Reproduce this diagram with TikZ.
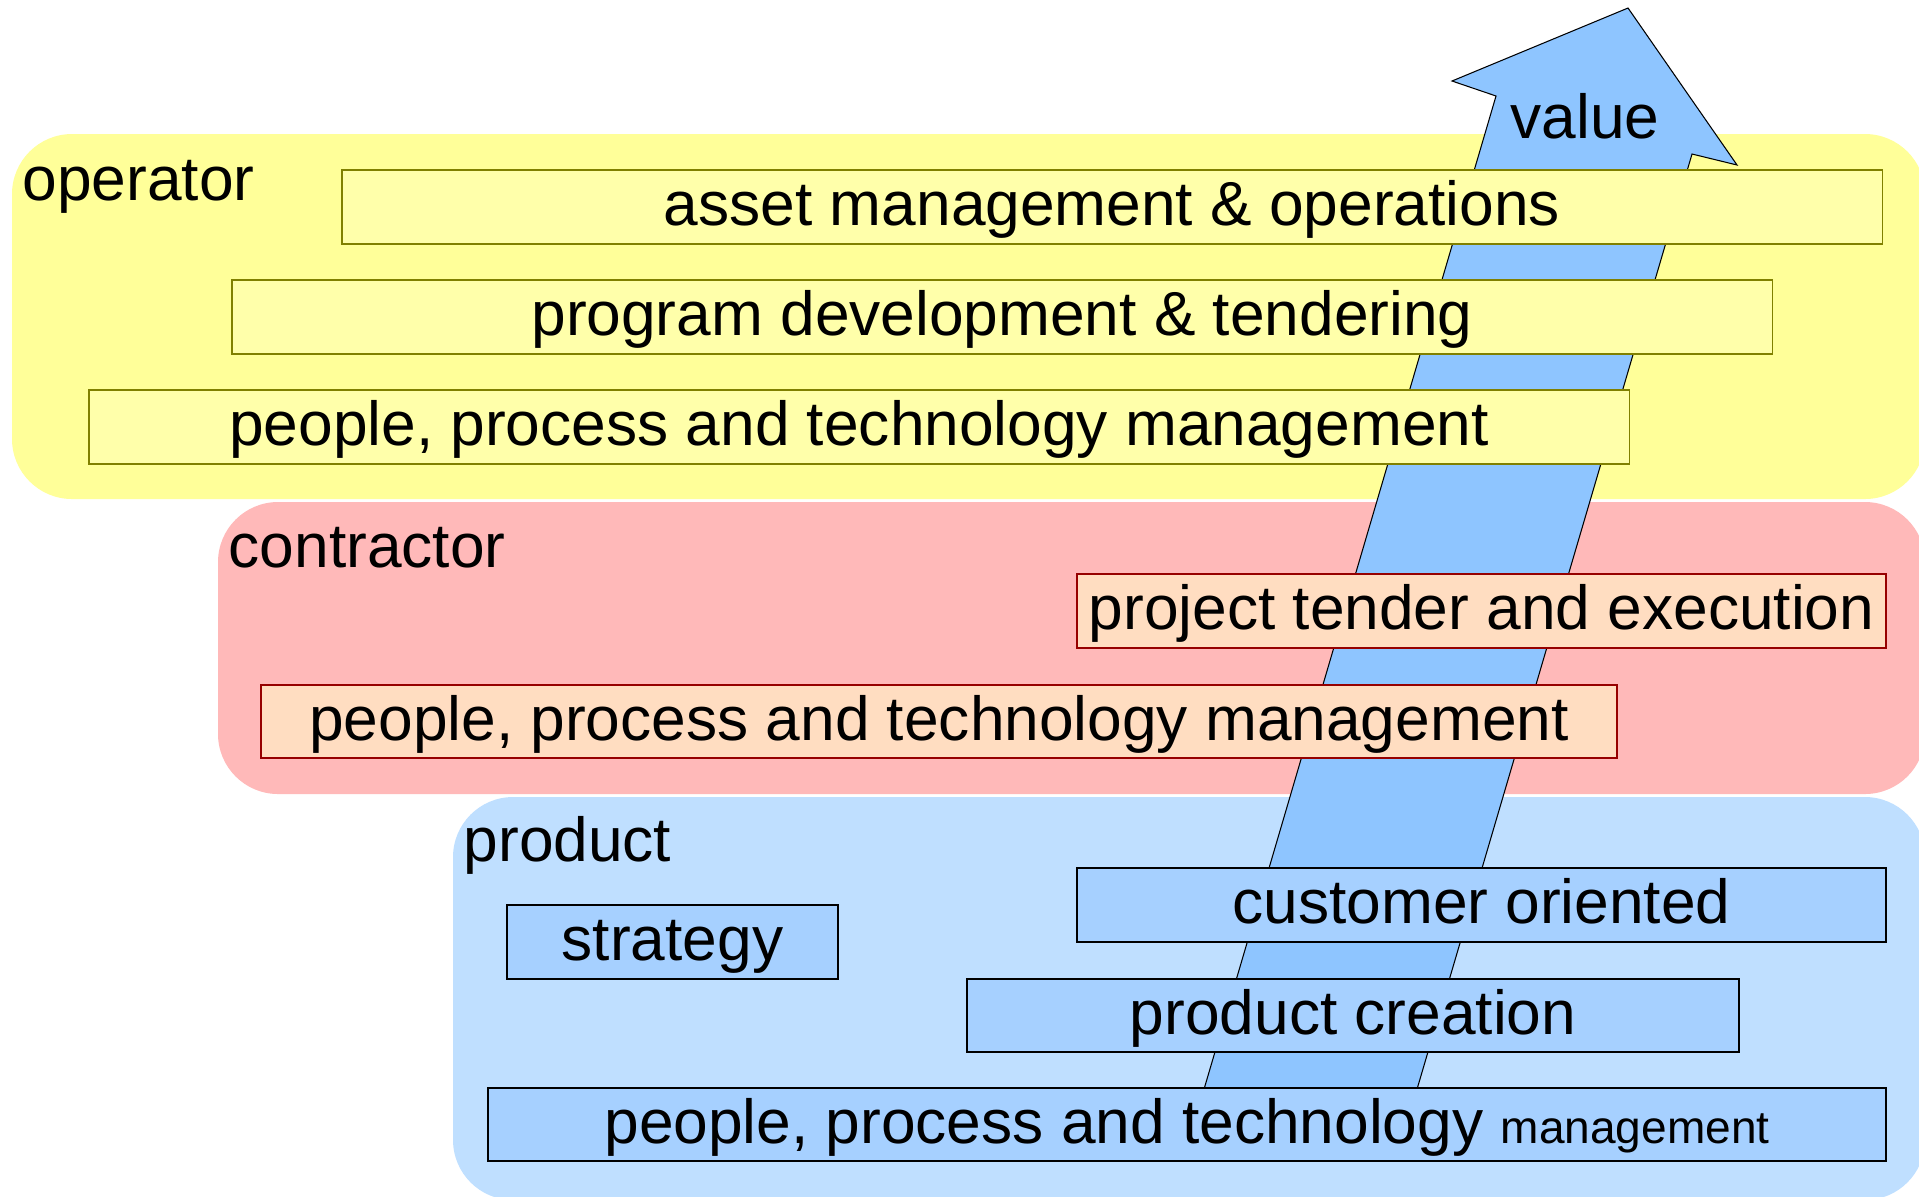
\documentclass[tikz,border=0pt]{standalone}
\usepackage{fontspec}
\setmainfont{Liberation Sans}

\definecolor{opband}{RGB}{255,255,153}
\definecolor{opfill}{RGB}{255,255,170}
\definecolor{opline}{RGB}{128,128,0}
\definecolor{coband}{RGB}{255,185,185}
\definecolor{cofill}{RGB}{255,221,193}
\definecolor{coline}{RGB}{150,0,0}
\definecolor{prband}{RGB}{191,223,255}
\definecolor{prfill}{RGB}{166,208,255}
\definecolor{valuearrow}{RGB}{142,197,255}

\tikzset{
  band/.style={rounded corners=0.6cm},
  box/.style={draw,line width=0.55pt,inner sep=0pt,minimum height=0.735cm,text height=0.5cm,text depth=0.13cm},
  opbox/.style={box,fill=opfill,draw=opline},
  cobox/.style={box,fill=cofill,draw=coline},
  prbox/.style={box,fill=prfill,draw=black},
  lbl/.style={inner sep=0pt,anchor=base west},
}

\begin{document}
\begin{tikzpicture}[x=0.01cm,y=-0.01cm,font=\fontsize{17.7}{21}\selectfont]

\useasboundingbox (0,0) rectangle (1919,1196);
\clip (0,0) rectangle (1919,1196);

\fill[band,opband] (12,134) rectangle (1925,499);
\fill[band,coband] (218,502) rectangle (1925,794);
\fill[band,prband] (453,797) rectangle (1925,1200);

\draw[fill=valuearrow,line width=0.3pt] (1628,8) -- (1737,165) -- (1692,154) -- (1405,1130)
  -- (1192,1130) -- (1496,96) -- (1452,81) -- cycle;

\node[opbox,minimum width=15.4cm] (asset) at (1112,207) {asset management \& operations};
\node[opbox,minimum width=15.4cm] (program) at (1002,317) {program development \& tendering};
\node[opbox,minimum width=15.4cm] (opppt) at (859,427) {people, process and technology management};

\node[cobox,minimum width=8.09cm] (tender) at (1481.5,611) {project tender and execution};
\node[cobox,minimum width=13.56cm] (coppt) at (939,721.5) {people, process and technology management};

\node[prbox,minimum width=8.09cm] (customer) at (1481.5,905) {customer oriented};
\node[prbox,minimum width=7.72cm] (creation) at (1353,1015.5) {product creation};
\node[prbox,minimum width=3.31cm] (strategy) at (672.5,942) {strategy};
\node[prbox,minimum width=13.98cm] (prppt) at (1187,1124.5) {people, process and technology {\fontsize{13.1}{15}\selectfont management}};

\node[lbl] (operator) at (22,200) {operator};
\node[lbl] (contractor) at (228,567) {contractor};
\node[lbl] (product) at (463,861) {product};
\node[inner sep=0pt,anchor=base] (value) at (1585,138) {value};

\end{tikzpicture}
\end{document}
